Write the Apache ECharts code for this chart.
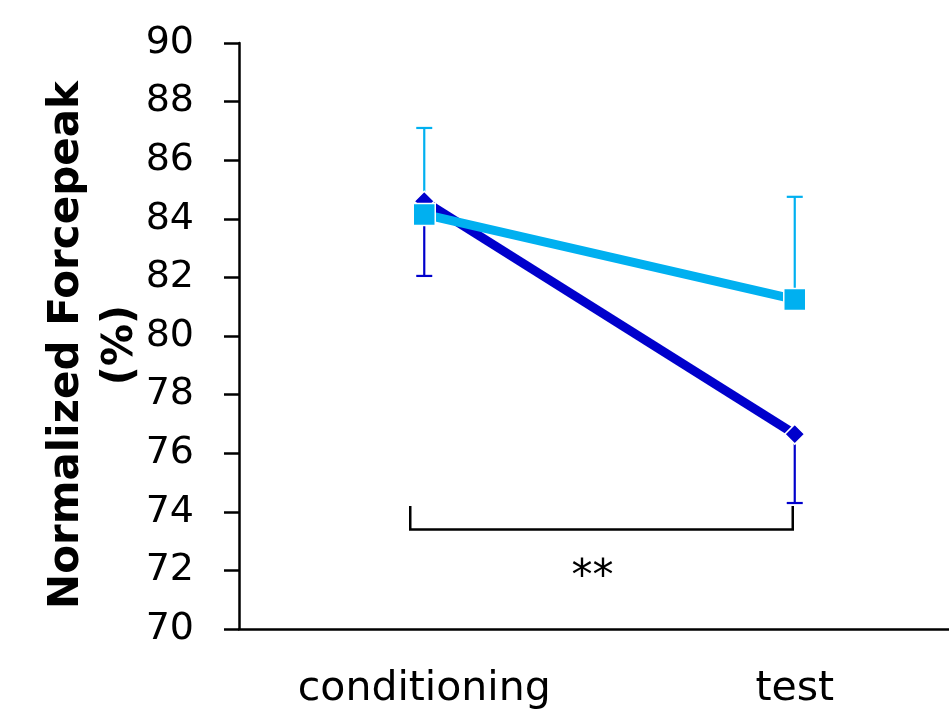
<!DOCTYPE html>
<html><head><meta charset="utf-8">
<script src="https://cdn.jsdelivr.net/npm/echarts@6/dist/echarts.min.js"></script>
<style>html,body{margin:0;padding:0;background:#fff}#c{width:949px;height:719px}</style>
</head><body><div id="c"></div>
<script>
const categories = ['conditioning', 'test'];
const darkMeans = [84.6, 76.65];
const darkErrLow = [82.05, 74.3];
const lightMeans = [84.15, 81.25];
const lightErrHigh = [87.1, 84.75];
const yTicks = [70, 90, 2];
const bracketTop = 74.2;
const bracketBottom = 73.4;
const sigLabel = '**';
const sigValue = 71.75;

const DARK = '#0000CC';
const LIGHT = '#00B0F0';

function errSeries(color, lo, hi) {
  return {
    type: 'custom', z: 1,
    renderItem: function (params, api) {
      const x = api.value(0);
      const p1 = api.coord([x, api.value(1)]);
      const p2 = api.coord([x, api.value(2)]);
      const cw = 8;
      const st = { stroke: color, lineWidth: 2.2 };
      return { type: 'group', children: [
        { type: 'line', shape: { x1: p1[0], y1: p1[1], x2: p2[0], y2: p2[1] }, style: st },
        { type: 'line', shape: { x1: p2[0] - cw, y1: p2[1], x2: p2[0] + cw, y2: p2[1] }, style: st }
      ]};
    },
    data: categories.map((c, i) => [i, lo[i], hi[i]]),
    silent: true
  };
}

const chart = echarts.init(document.getElementById('c'));
chart.setOption({
  animation: false,
  grid: { left: 239, top: 43, bottom: 90, right: -31, containLabel: false, outerBoundsMode: 'none' },
  xAxis: {
    type: 'category', data: categories,
    axisLine: { lineStyle: { color: '#000', width: 2.5 } },
    axisTick: { show: false },
    axisLabel: { color: '#000', fontSize: 41, fontFamily: 'DejaVu Sans', margin: 40 }
  },
  yAxis: {
    type: 'value', min: yTicks[0], max: yTicks[1], interval: yTicks[2],
    name: 'Normalized Forcepeak\n(%)', nameLocation: 'middle', nameGap: 91, nameMoveOverlap: false,
    nameTextStyle: { color: '#000', fontSize: 42, fontWeight: 'bold', fontFamily: 'DejaVu Sans', lineHeight: 54, padding: [0, 18, 0, 0] },
    axisLine: { show: true, lineStyle: { color: '#000', width: 2.5 } },
    axisTick: { show: true, length: 15, lineStyle: { color: '#000', width: 2.5 } },
    splitLine: { show: false },
    axisLabel: { color: '#000', fontSize: 38, fontFamily: 'DejaVu Sans', margin: 45 }
  },
  series: [
    errSeries(DARK, darkMeans, darkErrLow),
    errSeries(LIGHT, lightMeans, lightErrHigh),
    {
      type: 'line', data: darkMeans, z: 3,
      lineStyle: { color: DARK, width: 9 },
      symbol: 'diamond', symbolSize: 20,
      itemStyle: { color: DARK, borderColor: '#fff', borderWidth: 1.5 }
    },
    {
      type: 'line', data: lightMeans, z: 4,
      lineStyle: { color: LIGHT, width: 9 },
      symbol: 'rect', symbolSize: 22,
      itemStyle: { color: LIGHT, borderColor: '#fff', borderWidth: 1.5 }
    },
    {
      type: 'custom', z: 2, silent: true,
      renderItem: function (params, api) {
        const a = api.coord([0, bracketTop]);
        const b = api.coord([0, bracketBottom]);
        const c = api.coord([1, bracketBottom]);
        const d = api.coord([1, bracketTop]);
        const sy = api.coord([0, sigValue])[1];
        const lx = a[0] - 14, rx = c[0] - 2;
        const sx = (a[0] + c[0]) / 2 - 17;
        return { type: 'group', children: [
          { type: 'polyline', shape: { points: [[lx, a[1]], [lx, b[1]], [rx, c[1]], [rx, d[1]]] },
            style: { stroke: '#000', lineWidth: 2.5, fill: null } },
          { type: 'text', style: { text: sigLabel, x: sx, y: sy, align: 'center', verticalAlign: 'middle',
            font: '42px "DejaVu Sans"', fill: '#000' } }
        ]};
      },
      data: [[0]]
    }
  ]
});
</script></body></html>
